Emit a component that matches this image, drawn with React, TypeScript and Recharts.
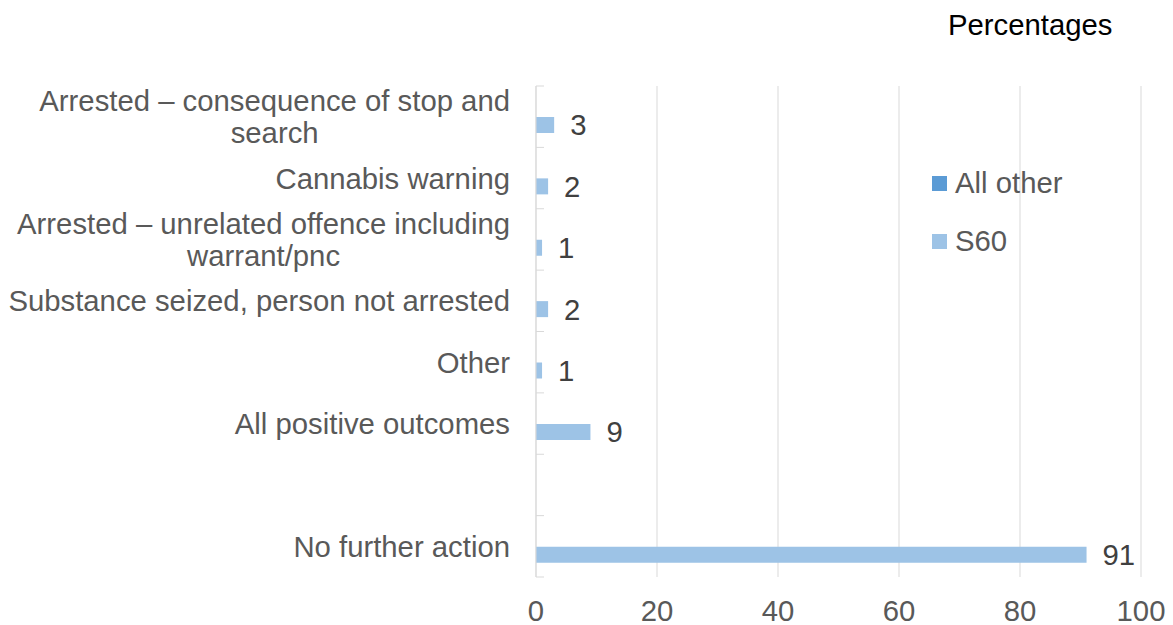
import React from 'react';
import { BarChart, Bar, XAxis, YAxis, CartesianGrid, Legend, LabelList } from 'recharts';

// Outcome categories (line breaks mark where long labels wrap)
const categories: string[] = [
  'Arrested – consequence of stop and\nsearch',
  'Cannabis warning',
  'Arrested – unrelated offence including\nwarrant/pnc',
  'Substance seized, person not arrested',
  'Other',
  'All positive outcomes',
  '',
  'No further action',
];

// Percentages by search type
const allOther: (number | null)[] = [null, null, null, null, null, null, null, null];
const s60: (number | null)[] = [3, 2, 1, 2, 1, 9, null, 91];

const xTicks: number[] = [0, 20, 40, 60, 80, 100];

const data = categories.map((category, i) => ({
  category,
  allOther: allOther[i],
  s60: s60[i],
}));

const FONT = '"Liberation Sans", Arial, sans-serif';
const FONT_SIZE = 29.3;
const TEXT_GREY = '#595959';
const GRID_GREY = '#d9d9d9';

const WIDTH = 1173;
const HEIGHT = 625;
const MARGIN = { top: 86, right: 32, bottom: 0, left: 0 };
const Y_AXIS_WIDTH = 536;
const X_AXIS_HEIGHT = 48;
const TICK_MARGIN = 26;
const LINE_HEIGHT = 32.5;
const PLOT_HEIGHT = HEIGHT - MARGIN.top - MARGIN.bottom - X_AXIS_HEIGHT;
const BAND = PLOT_HEIGHT / categories.length;

let measureCtx: CanvasRenderingContext2D | null = null;
const measure = (text: string): number => {
  if (!measureCtx) {
    measureCtx = document.createElement('canvas').getContext('2d');
  }
  if (!measureCtx) return text.length * FONT_SIZE * 0.5;
  measureCtx.font = `${FONT_SIZE}px ${FONT}`;
  return measureCtx.measureText(text).width;
};

// Category label (wrapped lines centred within a right-aligned block)
// plus the small inward tick marks between categories
const CategoryTick = (props: any) => {
  const { x, y, payload, index } = props;
  const lines = String(payload.value).split('\n');
  const axisX = x + TICK_MARGIN;
  const half = BAND / 2;
  const firstDy = -((lines.length - 1) * LINE_HEIGHT) / 2 + FONT_SIZE * 0.358;
  const multi = lines.length > 1;
  const blockWidth = multi ? Math.max(...lines.map(measure)) : 0;
  const textX = multi ? x - blockWidth / 2 : x;
  return (
    <g>
      <line x1={axisX} x2={axisX + 8} y1={y - half} y2={y - half} stroke={GRID_GREY} strokeWidth={1} />
      {index === categories.length - 1 && (
        <line x1={axisX} x2={axisX + 8} y1={y + half} y2={y + half} stroke={GRID_GREY} strokeWidth={1} />
      )}
      <text
        x={textX}
        y={y}
        textAnchor={multi ? 'middle' : 'end'}
        fill={TEXT_GREY}
        fontSize={FONT_SIZE}
        fontFamily={FONT}
      >
        {lines.map((line, i) => (
          <tspan key={i} x={textX} dy={i === 0 ? firstDy : LINE_HEIGHT}>
            {line}
          </tspan>
        ))}
      </text>
    </g>
  );
};

const LegendContent = (props: any) => {
  const { payload } = props;
  return (
    <div>
      {(payload || []).map((entry: any, i: number) => (
        <div key={i} style={{ display: 'flex', alignItems: 'center', height: 58 }}>
          <span style={{ display: 'inline-block', width: 15, height: 15, background: entry.color, marginRight: 8 }} />
          <span style={{ fontFamily: FONT, fontSize: FONT_SIZE, color: TEXT_GREY, lineHeight: 1, whiteSpace: 'nowrap' }}>
            {entry.value}
          </span>
        </div>
      ))}
    </div>
  );
};

export default function App() {
  return (
    <div style={{ position: 'absolute', left: 0, top: 0, width: WIDTH, height: HEIGHT, background: '#ffffff' }}>
      <div
        style={{
          position: 'absolute',
          left: 948,
          top: 9.5,
          fontFamily: FONT,
          fontSize: FONT_SIZE,
          lineHeight: 1,
          color: '#000000',
          whiteSpace: 'nowrap',
        }}
      >
        Percentages
      </div>
      <BarChart
        width={WIDTH}
        height={HEIGHT}
        data={data}
        layout="vertical"
        margin={MARGIN}
        barSize={16}
        barGap={0}
      >
        <CartesianGrid horizontal={false} stroke={GRID_GREY} strokeWidth={1} />
        <XAxis
          type="number"
          domain={[0, 100]}
          ticks={xTicks}
          axisLine={false}
          tickLine={false}
          tickSize={0}
          tickMargin={23}
          height={X_AXIS_HEIGHT}
          tick={{ fill: TEXT_GREY, fontSize: FONT_SIZE, fontFamily: FONT }}
        />
        <YAxis
          type="category"
          dataKey="category"
          width={Y_AXIS_WIDTH}
          axisLine={{ stroke: GRID_GREY, strokeWidth: 1 }}
          tickLine={false}
          tickSize={0}
          tickMargin={TICK_MARGIN}
          interval={0}
          tick={<CategoryTick />}
        />
        <Legend
          layout="vertical"
          align="center"
          verticalAlign="middle"
          wrapperStyle={{ left: 932, top: 154, width: 220 }}
          content={<LegendContent />}
        />
        <Bar dataKey="allOther" name="All other" fill="#5B9BD5" isAnimationActive={false} />
        <Bar dataKey="s60" name="S60" fill="#9DC3E6" isAnimationActive={false}>
          <LabelList
            dataKey="s60"
            position="right"
            offset={16}
            fill="#404040"
            fontSize={FONT_SIZE}
            fontFamily={FONT}
          />
        </Bar>
      </BarChart>
    </div>
  );
}
